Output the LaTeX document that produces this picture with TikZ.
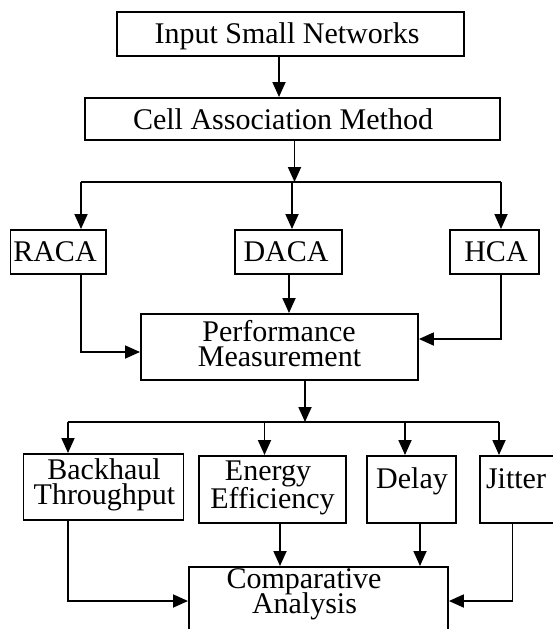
\documentclass[tikz,border=0pt]{standalone}
\usepackage{fontspec}
\setmainfont{Liberation Serif}
\usetikzlibrary{arrows.meta}
\begin{document}
\begin{tikzpicture}[x=1pt,y=-1pt,
  box/.style={draw, line width=1.9pt, inner sep=0pt, anchor=north west},
  txt/.style={inner sep=0pt, anchor=base, font=\fontsize{30}{30}\selectfont},
  arr/.style={line width=1.8pt, -{Triangle[width=13pt,length=15pt]}},
  ln/.style={line width=1.8pt}]
\useasboundingbox (0,0) rectangle (553,629);
\clip (0,0) rectangle (553,629);
% boxes
\node[box, minimum width=347pt, minimum height=44pt] (inp) at (116,11) {};
\node[box, minimum width=415pt, minimum height=42pt] (cell) at (84,97) {};
\node[box, minimum width=95.5pt, minimum height=44pt] (raca) at (9.5,229) {};
\node[box, minimum width=107pt, minimum height=44pt] (daca) at (234,229) {};
\node[box, minimum width=89pt, minimum height=44pt] (hca) at (449,229) {};
\node[box, minimum width=277pt, minimum height=66pt] (perf) at (140,313) {};
\node[box, minimum width=160pt, minimum height=66pt] (back) at (22.5,453) {};
\node[box, minimum width=147pt, minimum height=67pt] (ener) at (198,455) {};
\node[box, minimum width=89pt, minimum height=67pt] (delay) at (366,455) {};
\node[box, minimum width=81pt, minimum height=67pt] (jit) at (479,455) {};
\node[box, minimum width=259pt, minimum height=80pt] (comp) at (188,566) {};
% texts
\node[txt] (tinp) at (287,43.3) {Input Small Networks};
\node[txt] (tcell) at (283,129.3) {Cell Association Method};
\node[txt] (traca) at (55,261.7) {RACA};
\node[txt] (tdaca) at (286,261.7) {DACA};
\node[txt] (thca) at (496,261.7) {HCA};
\node[txt] (tperfa) at (279,341.7) {Performance};
\node[txt] (tperfb) at (279.5,366.7) {Measurement};
\node[txt] (tbacka) at (104,479) {Backhaul};
\node[txt] (tbackb) at (104.5,504) {Throughput};
\node[txt] (tenera) at (268,480) {Energy};
\node[txt] (tenerb) at (272.5,508) {Efficiency};
\node[txt] (tdelay) at (412,488) {Delay};
\node[txt] (tjit) at (516,488) {Jitter};
\node[txt] (tcompa) at (304,588) {Comparative};
\node[txt] (tcompb) at (304.5,613) {Analysis};
% coordinates
\coordinate (x279) at (279,0);
\coordinate (brA) at (294.5,182);
\coordinate (brL) at (81,182);
\coordinate (brM) at (292,182);
\coordinate (brR) at (501,182);
\coordinate (jA) at (81,352);
\coordinate (x289) at (289,0);
\coordinate (jB) at (501,339);
\coordinate (brP) at (305,422);
\coordinate (bqL) at (68,422);
\coordinate (bqA) at (264.5,422);
\coordinate (bqB) at (405,422);
\coordinate (bqR) at (499,422);
\coordinate (jC) at (68,601);
\coordinate (x280) at (280,0);
\coordinate (x420) at (420,0);
\coordinate (jD) at (512.5,601);
% connectors
\draw[arr] (inp.south -| x279) -- (cell.north -| x279);
\draw[arr] (cell.south -| brA) -- (brA);
\draw[ln] (brL) -- (brR);
\draw[arr] (brL) -- (raca.north -| brL);
\draw[arr] (brM) -- (daca.north -| brM);
\draw[arr] (brR) -- (hca.north -| brR);
\draw[arr] (raca.south -| jA) -- (jA) -- (perf.west |- jA);
\draw[arr] (daca.south -| x289) -- (perf.north -| x289);
\draw[arr] (hca.south -| jB) -- (jB) -- (perf.east |- jB);
\draw[arr] (perf.south -| brP) -- (brP);
\draw[ln] (bqL) -- (bqR);
\draw[arr] (bqL) -- (back.north -| bqL);
\draw[arr] (bqA) -- (ener.north -| bqA);
\draw[arr] (bqB) -- (delay.north -| bqB);
\draw[arr] (bqR) -- (jit.north -| bqR);
\draw[arr] (back.south -| jC) -- (jC) -- (comp.west |- jC);
\draw[arr] (ener.south -| x280) -- (comp.north -| x280);
\draw[arr] (delay.south -| x420) -- (comp.north -| x420);
\draw[arr] (jit.south -| jD) -- (jD) -- (comp.east |- jD);
\end{tikzpicture}
\end{document}
